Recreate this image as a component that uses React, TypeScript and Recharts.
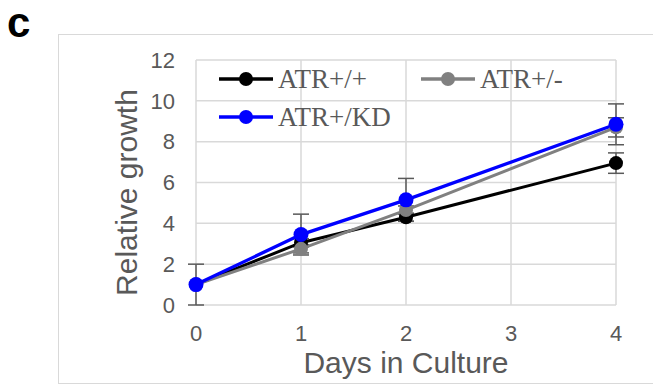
import React from 'react';
import { LineChart, Line, XAxis, YAxis, CartesianGrid, ErrorBar, Label } from 'recharts';

const days = [0, 1, 2, 4];
const wtValues = [1, 3.05, 4.3, 6.95];
const wtErrors = [0, 0.2, 0.2, 0.5];
const hetValues = [1, 2.75, 4.65, 8.7];
const hetErrors = [0, 0.2, 0.2, 0.47];
const kdValues = [1, 3.45, 5.15, 8.85];
const kdErrors = [1, 1.0, 1.05, 1.0];
const xTicks = [0, 1, 2, 3, 4];
const yTicks = [0, 2, 4, 6, 8, 10, 12];
const seriesNames = ['ATR+/+', 'ATR+/-', 'ATR+/KD'];
const seriesColors = ['#000000', '#808080', '#0000FF'];

const data = days.map((d, i) => ({
  day: d,
  wt: wtValues[i],
  wtErr: wtErrors[i],
  het: hetValues[i],
  hetErr: hetErrors[i],
  kd: kdValues[i],
  kdErr: kdErrors[i],
}));

const tickStyle = { fontFamily: 'Liberation Sans, Arial, sans-serif', fontSize: 22, fill: '#595959' };

const YTitle = (props: any) => {
  const vb = props.viewBox || { x: 100, y: 60, width: 96, height: 245 };
  const x = vb.x + 37;
  const y = vb.y + vb.height / 2 + 10;
  return (
    <text x={x} y={y} transform={`rotate(-90, ${x}, ${y})`} textAnchor="middle"
      style={{ fontFamily: 'Liberation Sans, Arial, sans-serif', fontSize: 30, fill: '#595959' }}>
      Relative growth
    </text>
  );
};

const XTitle = (props: any) => {
  const vb = props.viewBox || { x: 196, y: 305, width: 420, height: 80 };
  const x = vb.x + vb.width / 2;
  const y = vb.y + 68;
  return (
    <text x={x} y={y} textAnchor="middle"
      style={{ fontFamily: 'Liberation Sans, Arial, sans-serif', fontSize: 30, fill: '#595959' }}>
      Days in Culture
    </text>
  );
};

const legendPos = [
  { left: 0, top: 0 },
  { left: 202, top: 0 },
  { left: 0, top: 38 },
];

const LegendBox = () => (
  <div style={{ position: 'absolute', left: 218, top: 64, width: 400, height: 80 }}>
    {seriesNames.map((name, i) => (
      <div key={name} style={{ position: 'absolute', left: legendPos[i].left, top: legendPos[i].top, display: 'flex', alignItems: 'center', height: 30 }}>
        <svg width={56} height={30}>
          <line x1={1} y1={15} x2={55} y2={15} stroke={seriesColors[i]} strokeWidth={3.5} />
          <circle cx={28} cy={15} r={7} fill={seriesColors[i]} />
        </svg>
        <span style={{ marginLeft: 4, fontFamily: 'Liberation Serif, Times New Roman, serif', fontSize: 27, color: '#595959', whiteSpace: 'nowrap', lineHeight: '30px' }}>
          {name}
        </span>
      </div>
    ))}
  </div>
);

const errKeys = [
  ['wt', 'wtErr'],
  ['het', 'hetErr'],
  ['kd', 'kdErr'],
];

export default function App() {
  return (
    <div style={{ position: 'absolute', left: 0, top: 0, width: 653, height: 385, background: '#fff', overflow: 'hidden' }}>
      <div style={{ position: 'absolute', left: 58, top: 34, width: 610, height: 348, border: '1.5px solid #d9d9d9' }} />
      <svg style={{ position: 'absolute', left: 0, top: 0 }} width={60} height={50}>
        <text x={7} y={37} style={{ fontFamily: 'Liberation Sans, Arial, sans-serif', fontWeight: 'bold', fontSize: 42, fill: '#000' }}>c</text>
      </svg>
      <div style={{ position: 'absolute', left: 0, top: 0 }}>
        <LineChart width={653} height={385} data={data} margin={{ top: 60, right: 37, bottom: 0, left: 100 }}>
          <CartesianGrid stroke="#d9d9d9" strokeWidth={1.5} />
          <XAxis dataKey="day" type="number" domain={[0, 4]} ticks={xTicks} axisLine={false} tickLine={false}
            tickSize={0} tickMargin={20} height={80} tick={tickStyle} interval={0}>
            <Label content={<XTitle />} />
          </XAxis>
          <YAxis type="number" domain={[0, 12]} ticks={yTicks} axisLine={false} tickLine={false}
            tickSize={0} tickMargin={21} width={96} tick={tickStyle} interval={0}>
            <Label content={<YTitle />} />
          </YAxis>
          {errKeys.map(([k, e]) => (
            <Line key={'err-' + k} dataKey={k} stroke="none" dot={false} activeDot={false} isAnimationActive={false} legendType="none">
              <ErrorBar dataKey={e} direction="y" width={8} stroke="#595959" strokeWidth={1.5} />
            </Line>
          ))}
          <Line dataKey="wt" name={seriesNames[0]} stroke={seriesColors[0]} strokeWidth={3} isAnimationActive={false}
            dot={{ r: 7, fill: seriesColors[0], stroke: seriesColors[0], strokeWidth: 0 }} activeDot={false} />
          <Line dataKey="het" name={seriesNames[1]} stroke={seriesColors[1]} strokeWidth={3} isAnimationActive={false}
            dot={{ r: 7, fill: seriesColors[1], stroke: seriesColors[1], strokeWidth: 0 }} activeDot={false} />
          <Line dataKey="kd" name={seriesNames[2]} stroke={seriesColors[2]} strokeWidth={3.3} isAnimationActive={false}
            dot={{ r: 7.5, fill: seriesColors[2], stroke: seriesColors[2], strokeWidth: 0 }} activeDot={false} />
        </LineChart>
      </div>
      <LegendBox />
    </div>
  );
}
